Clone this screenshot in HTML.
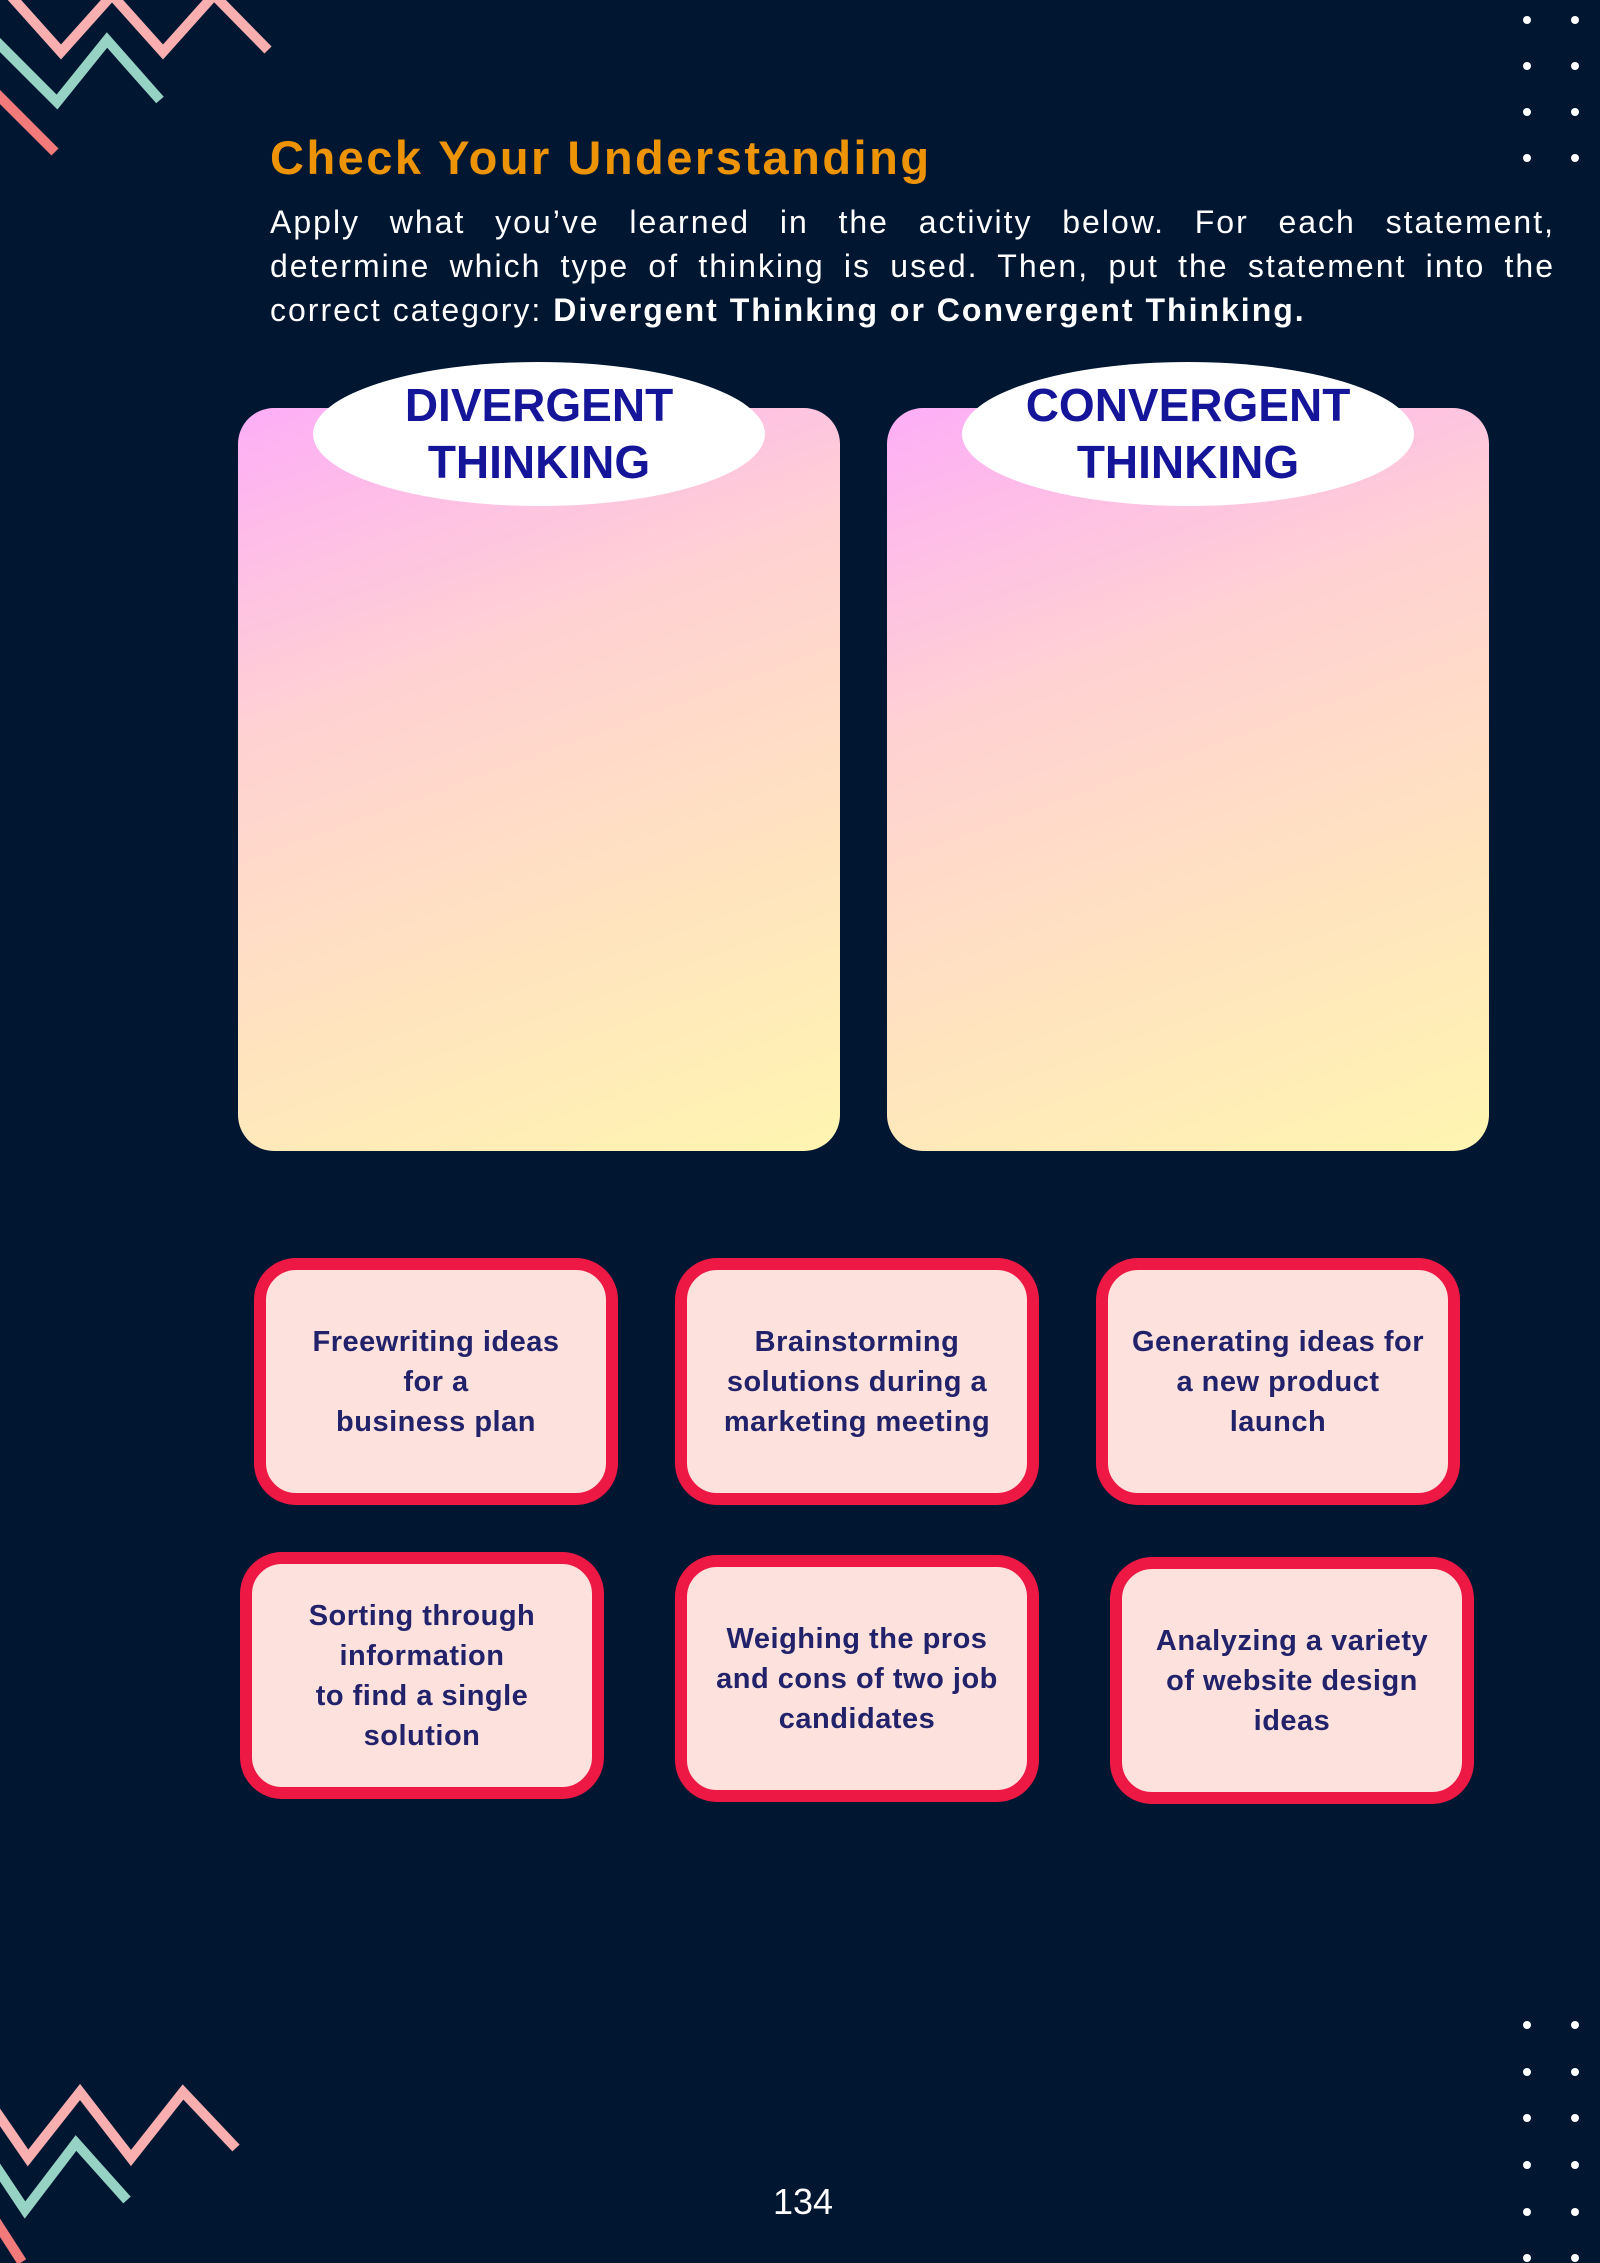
<!DOCTYPE html>
<html><head><meta charset="utf-8"><style>
html,body{margin:0;padding:0}
body{width:1600px;height:2263px;background:#001631;position:relative;overflow:hidden;font-family:"Liberation Sans",sans-serif}
.abs{position:absolute}
h1{position:absolute;left:270px;top:128px;margin:0;font-size:47px;font-weight:bold;color:#ed9406;line-height:60px;letter-spacing:2.5px}
.para{position:absolute;left:270px;width:1285px;color:#fff;font-size:32px;line-height:44px;letter-spacing:2px}
.j{text-align:justify;text-align-last:justify}
.panel{position:absolute;top:408px;width:602px;height:743px;border-radius:36px;background:linear-gradient(160deg,#fdaef7 0%,#ffd2d2 35%,#ffe2c0 65%,#fff5b0 100%)}
.ell{position:absolute;top:362px;width:452px;height:144px;border-radius:50%;background:#fff;color:#15159a;font-weight:bold;font-size:46px;line-height:57px;text-align:center;display:flex;align-items:center;justify-content:center}
.card{position:absolute;width:340px;height:223px;border:12px solid #ee1844;border-radius:42px;background:#fde1dc;color:#22226a;font-weight:bold;font-size:29px;line-height:40px;text-align:center;display:flex;align-items:center;justify-content:center;letter-spacing:0.5px}
.dot{position:absolute;width:8px;height:8px;border-radius:50%;background:#fff}
</style></head><body>
<svg class="abs" style="left:0;top:0" width="1600" height="2263">
<g fill="none" stroke-width="10" stroke-linejoin="miter">
<polyline stroke="#f9aeb0" points="10,-5 61,52 112,-5 163,52 214,-5 268,50"/>
<polyline stroke="#97d3c5" points="-5,40 57,102 107,40 160,100"/>
<polyline stroke="#f27a7a" points="-5,92 55,152"/>
<polyline stroke="#f9aeb0" points="-5,2110 28,2158 80,2092 131,2158 183,2092 236,2148"/>
<polyline stroke="#97d3c5" points="-5,2165 25,2210 76,2143 127,2200"/>
<polyline stroke="#f27a7a" points="-5,2220 22,2262"/>
</g>
</svg>
<div class="dot" style="left:1523px;top:16px"></div><div class="dot" style="left:1571px;top:16px"></div>
<div class="dot" style="left:1523px;top:62px"></div><div class="dot" style="left:1571px;top:62px"></div>
<div class="dot" style="left:1523px;top:108px"></div><div class="dot" style="left:1571px;top:108px"></div>
<div class="dot" style="left:1523px;top:154px"></div><div class="dot" style="left:1571px;top:154px"></div>
<div class="dot" style="left:1523px;top:2021px"></div><div class="dot" style="left:1571px;top:2021px"></div>
<div class="dot" style="left:1523px;top:2068px"></div><div class="dot" style="left:1571px;top:2068px"></div>
<div class="dot" style="left:1523px;top:2114px"></div><div class="dot" style="left:1571px;top:2114px"></div>
<div class="dot" style="left:1523px;top:2161px"></div><div class="dot" style="left:1571px;top:2161px"></div>
<div class="dot" style="left:1523px;top:2208px"></div><div class="dot" style="left:1571px;top:2208px"></div>
<div class="dot" style="left:1523px;top:2254px"></div><div class="dot" style="left:1571px;top:2254px"></div>

<h1>Check Your Understanding</h1>
<div class="para j" style="top:200px">Apply what you’ve learned in the activity below. For each statement,</div>
<div class="para j" style="top:244px">determine which type of thinking is used. Then, put the statement into the</div>
<div class="para" style="top:288px">correct category: <b>Divergent Thinking or Convergent Thinking.</b></div>

<div class="panel" style="left:238px"></div>
<div class="panel" style="left:887px"></div>
<div class="ell" style="left:313px">DIVERGENT<br>THINKING</div>
<div class="ell" style="left:962px">CONVERGENT<br>THINKING</div>

<div class="card" style="left:254px;top:1258px">Freewriting ideas<br>for a<br>business plan</div>
<div class="card" style="left:675px;top:1258px">Brainstorming<br>solutions during a<br>marketing meeting</div>
<div class="card" style="left:1096px;top:1258px">Generating ideas for<br>a new product<br>launch</div>
<div class="card" style="left:240px;top:1552px">Sorting through<br>information<br>to find a single<br>solution</div>
<div class="card" style="left:675px;top:1555px">Weighing the pros<br>and cons of two job<br>candidates</div>
<div class="card" style="left:1110px;top:1557px">Analyzing a variety<br>of website design<br>ideas</div>

<div class="abs" style="left:700px;width:206px;top:2180px;text-align:center;color:#fff;font-size:36px;line-height:44px">134</div>
</body></html>
